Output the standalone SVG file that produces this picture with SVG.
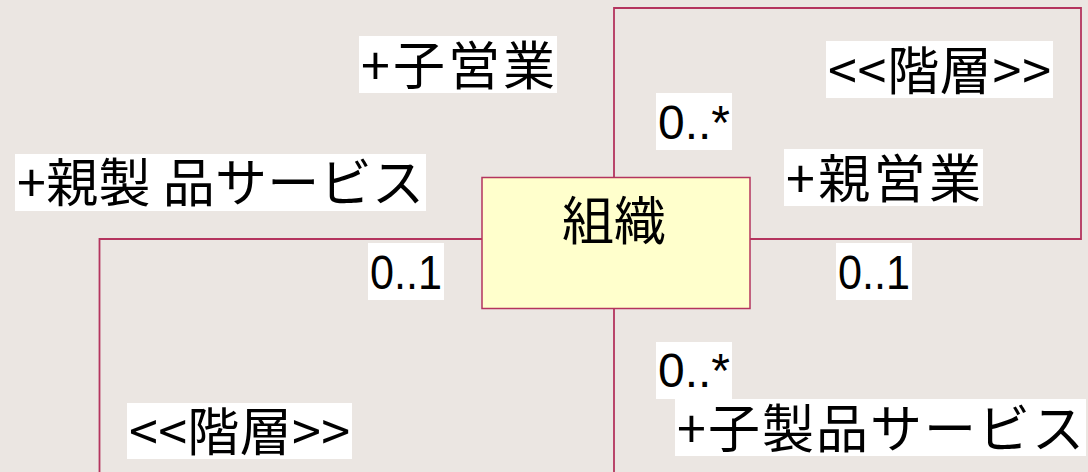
<svg xmlns="http://www.w3.org/2000/svg" width="1088" height="472" viewBox="0 0 1088 472">
<style>
.bg{fill:#ebe6e2}
.node{fill:#ffffcc;stroke:#b4345e;stroke-width:1.5}
.conn{fill:none;stroke:#b4345e;stroke-width:1.8}
.lb{fill:#ffffff}
.t{font-family:"Noto Sans CJK JP","Liberation Sans",sans-serif;font-size:52px;fill:#000}
.n{font-family:"Liberation Sans","Noto Sans CJK JP",sans-serif;font-size:48px;fill:#000}
</style>
<rect class="bg" x="0" y="0" width="1088" height="472"/>
<g id="connectors">
<path class="conn" d="M614,177.5 V8 H1081 V239 H750"/>
<path class="conn" d="M482,239 H99.5 V472"/>
<path class="conn" d="M614,308.5 V472"/>
</g>
<g id="node-soshiki">
<rect class="node" x="482" y="177.5" width="268" height="131"/>
<text class="t" x="614" y="240" text-anchor="middle" font-size="55">組織</text>
</g>
<g id="labels">
<rect class="lb" x="359" y="36" width="198" height="57"/>
<text class="t" x="361" y="85" textLength="194" lengthAdjust="spacing">+子営業</text>
<rect class="lb" x="15" y="154" width="411" height="57"/>
<text class="t" x="17" y="202" textLength="407" lengthAdjust="spacing">+親製 品サービス</text>
<rect class="lb" x="826" y="41" width="227" height="57"/>
<text class="t" x="828" y="90" textLength="223" lengthAdjust="spacing">&lt;&lt;階層&gt;&gt;</text>
<rect class="lb" x="656" y="93" width="76" height="57"/>
<text class="n" x="658" y="139" textLength="72" lengthAdjust="spacingAndGlyphs">0..*</text>
<rect class="lb" x="784" y="149" width="199" height="57"/>
<text class="t" x="786" y="198" textLength="195" lengthAdjust="spacing">+親営業</text>
<rect class="lb" x="368" y="243" width="76" height="57"/>
<text class="n" x="370" y="289" textLength="72" lengthAdjust="spacingAndGlyphs">0..1</text>
<rect class="lb" x="836" y="243" width="76" height="57"/>
<text class="n" x="838" y="289" textLength="72" lengthAdjust="spacingAndGlyphs">0..1</text>
<rect class="lb" x="656" y="342" width="76" height="57"/>
<text class="n" x="658" y="387" textLength="72" lengthAdjust="spacingAndGlyphs">0..*</text>
<rect class="lb" x="675" y="399" width="411" height="57"/>
<text class="t" x="677" y="448" textLength="407" lengthAdjust="spacing">+子製品サービス</text>
<rect class="lb" x="127" y="403" width="225" height="56"/>
<text class="t" x="129" y="451" textLength="221" lengthAdjust="spacing">&lt;&lt;階層&gt;&gt;</text>
</g>
</svg>
